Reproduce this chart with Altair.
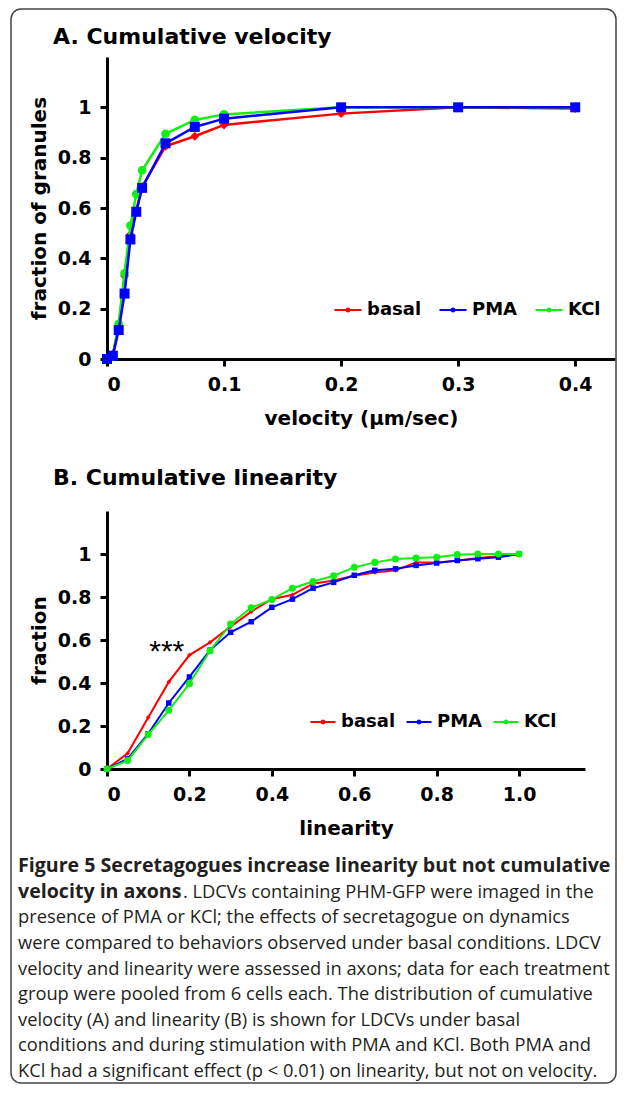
import altair as alt
import pandas as pd

# ---------------- data ----------------
series_names = ["basal", "PMA", "KCl"]
series_colors = ["#ff0000", "#0000ff", "#11ee11"]
series_shapes = ["diamond", "square", "circle"]

vel_x = [0, 0.005, 0.01, 0.015, 0.02, 0.025, 0.03, 0.05, 0.075, 0.1, 0.2, 0.3, 0.4]
vel_basal = [0, 0.02, 0.13, 0.33, 0.495, 0.59, 0.685, 0.845, 0.885, 0.93, 0.975, 1.0, 0.995]
vel_pma = [0, 0.013, 0.115, 0.26, 0.475, 0.585, 0.68, 0.857, 0.922, 0.955, 1.0, 1.0, 1.0]
vel_kcl = [0, 0.01, 0.14, 0.34, 0.53, 0.655, 0.75, 0.895, 0.95, 0.972, 1.0, 1.0, 1.0]

lin_x = [0, 0.05, 0.1, 0.15, 0.2, 0.25, 0.3, 0.35, 0.4, 0.45, 0.5,
         0.55, 0.6, 0.65, 0.7, 0.75, 0.8, 0.85, 0.9, 0.95, 1.0]
lin_basal = [0, 0.073, 0.24, 0.405, 0.53, 0.589, 0.662, 0.732, 0.79, 0.81, 0.862,
             0.877, 0.899, 0.914, 0.924, 0.961, 0.961, 0.969, 0.981, 0.99, 1.0]
lin_pma = [0, 0.047, 0.164, 0.307, 0.428, 0.553, 0.636, 0.685, 0.752, 0.79, 0.841,
           0.868, 0.901, 0.924, 0.931, 0.947, 0.958, 0.97, 0.978, 0.985, 1.0]
lin_kcl = [0, 0.039, 0.16, 0.273, 0.397, 0.55, 0.674, 0.75, 0.788, 0.841, 0.872,
           0.899, 0.938, 0.961, 0.977, 0.981, 0.985, 0.997, 1.0, 1.0, 1.0]

vel_ticks = [0, 0.1, 0.2, 0.3, 0.4]
lin_ticks = [0, 0.2, 0.4, 0.6, 0.8, 1.0]
y_ticks = [0, 0.2, 0.4, 0.6, 0.8, 1.0]

star_x = [0.145]
star_y = [0.545]
star_text = ["***"]

caption_bold = [
    "Figure 5 Secretagogues increase linearity but not cumulative",
    "velocity in axons",
]
caption_regular_line2 = ". LDCVs containing PHM-GFP were imaged in the"
caption_regular = [
    "presence of PMA or KCl; the effects of secretagogue on dynamics",
    "were compared to behaviors observed under basal conditions. LDCV",
    "velocity and linearity were assessed in axons; data for each treatment",
    "group were pooled from 6 cells each. The distribution of cumulative",
    "velocity (A) and linearity (B) is shown for LDCVs under basal",
    "conditions and during stimulation with PMA and KCl. Both PMA and",
    "KCl had a significant effect (p < 0.01) on linearity, but not on velocity.",
]

# ---------------- helpers ----------------
FONT = "DejaVu Sans"
CAP_FONT = "Open Sans"
CAP_COLOR = "#231f20"


def long_df(xs, ys_list):
    rows = []
    for name, ys in zip(series_names, ys_list):
        for xv, yv in zip(xs, ys):
            rows.append({"x": xv, "y": yv, "series": name})
    return pd.DataFrame(rows)


def panel(df, xdom, xticks, xtitle, ytitle, title, w, h, legend_xy, col_pad,
          sym_size, title_offset, sizes, line_w, order):
    color = alt.Color(
        "series:N",
        scale=alt.Scale(domain=series_names, range=series_colors),
        legend=alt.Legend(
            orient="none", legendX=legend_xy[0], legendY=legend_xy[1],
            direction="horizontal", title=None,
            symbolType="M-1,0H1M-0.11,0A0.11,0.11 0 1,0 0.11,0A0.11,0.11 0 1,0 -0.11,0",
            symbolSize=sym_size, symbolStrokeWidth=2.2,
            labelFont=FONT, labelFontSize=18, labelFontWeight="bold",
            labelColor="black", labelOffset=4, columnPadding=col_pad,
        ),
    )
    lab = "datum.value == 0 ? '0' : format(datum.value, '.1f')"
    ylab = ("datum.value == 0 ? '0' : (datum.value == 1 ? '1' : "
            "format(datum.value, '.1f'))")
    x = alt.X("x:Q", scale=alt.Scale(domain=xdom, nice=False, zero=False),
              axis=alt.Axis(values=xticks, labelExpr=lab, title=xtitle))
    y = alt.Y("y:Q", scale=alt.Scale(domain=[0, 1.2], nice=False),
              axis=alt.Axis(values=y_ticks, labelExpr=ylab, title=ytitle))
    base = alt.Chart(df)
    layers = []
    for i in order:
        name, col, shp, sz = series_names[i], series_colors[i], series_shapes[i], sizes[i]
        sub = base.transform_filter(alt.datum.series == name)
        layers.append(sub.mark_line(strokeWidth=line_w, clip=False).encode(
            x=x, y=y, color=color))
        layers.append(sub.mark_point(
            filled=True, opacity=1, clip=False, shape=shp, size=sz,
            color=col).encode(x=x, y=y))
    return alt.layer(*layers).properties(
        width=w, height=h,
        title=alt.TitleParams(title, anchor="start", frame="group", dx=-54,
                              font=FONT, fontSize=22, fontWeight="bold",
                              color="black", offset=title_offset),
    )


def spacer(h):
    return alt.Chart(pd.DataFrame({"a": [0]})).mark_point(opacity=0).encode(
        x=alt.value(0), y=alt.value(0)).properties(width=10, height=h)


dfA = long_df(vel_x, [vel_basal, vel_pma, vel_kcl])
dfB = long_df(lin_x, [lin_basal, lin_pma, lin_kcl])

chartA = panel(dfA, [0, 0.434], vel_ticks, "velocity (\u00b5m/sec)",
               "fraction of granules", "A. Cumulative velocity",
               508, 302, (226, 238), 13, 729, 8, [80, 100, 75], 2.5, [0, 2, 1])

chartB0 = panel(dfB, [0, 1.16], lin_ticks, "linearity", "fraction",
                "B. Cumulative linearity", 478, 258, (202, 197), 6, 625, 21,
                [22, 30, 50], 2, [0, 1, 2])

stars = alt.Chart(pd.DataFrame({"x": star_x, "y": star_y, "t": star_text})).mark_text(
    font="Liberation Sans", fontSize=30, color="black", align="center",
    baseline="middle").encode(
    x=alt.X("x:Q", scale=alt.Scale(domain=[0, 1.16], nice=False)),
    y=alt.Y("y:Q", scale=alt.Scale(domain=[0, 1.2], nice=False)),
    text="t:N")
chartB = alt.layer(chartB0, stars)

# caption
cap_rows = [{"line": 0, "t": caption_bold[0], "w": "bold"},
            {"line": 1, "t": caption_bold[1], "w": "bold"}]
cap_rows += [{"line": i + 2, "t": s, "w": "normal"} for i, s in enumerate(caption_regular)]
cap_df = pd.DataFrame(cap_rows)
cap_df2 = pd.DataFrame([{"line": 1, "t": caption_regular_line2}])

ycap = alt.Y("line:Q", scale=alt.Scale(domain=[0, 8], reverse=True, nice=False),
             axis=None)
cap_bold = alt.Chart(cap_df).transform_filter("datum.w == 'bold'").mark_text(
    font=CAP_FONT, fontSize=19.6, fontWeight="bold", color=CAP_COLOR,
    align="left", baseline="alphabetic").encode(
    x=alt.value(-89), y=ycap, text="t:N")
cap_reg = alt.Chart(cap_df).transform_filter("datum.w == 'normal'").mark_text(
    font=CAP_FONT, fontSize=18.3, color=CAP_COLOR,
    align="left", baseline="alphabetic").encode(
    x=alt.value(-89), y=ycap, text="t:N")
cap_reg2 = alt.Chart(cap_df2).mark_text(
    font=CAP_FONT, fontSize=18.3, color=CAP_COLOR,
    align="left", baseline="alphabetic", dx=165).encode(
    x=alt.value(-89), y=ycap, text="t:N")
frame = alt.Chart(pd.DataFrame({"a": [0]})).mark_rect(
    fillOpacity=0, stroke="#444444", strokeWidth=1.5, cornerRadius=10).encode(
    x=alt.value(-96), x2=alt.value(509), y=alt.value(-863), y2=alt.value(211))
caption = alt.layer(frame, cap_bold, cap_reg, cap_reg2).properties(width=508, height=205)

chart = alt.vconcat(
    chartA, spacer(152), chartB, spacer(103), caption,
    spacing=0, bounds="flush",
).resolve_scale(color="independent").properties(
    padding={"left": 2, "top": 0, "right": 0, "bottom": 0},
    background="white",
).configure_view(stroke=None).configure_axis(
    domainColor="black", domainWidth=3, tickColor="black", tickWidth=3,
    tickSize=7, grid=False, labelFont=FONT, labelFontSize=19,
    labelFontWeight="bold", labelColor="black", labelPadding=9,
    titleFont=FONT, titleFontSize=20, titleFontWeight="bold",
    titleColor="black", titlePadding=14,
).configure_axisY(titlePadding=8)

chart.save("out.html", embed_options={"renderer": "svg", "actions": False})
